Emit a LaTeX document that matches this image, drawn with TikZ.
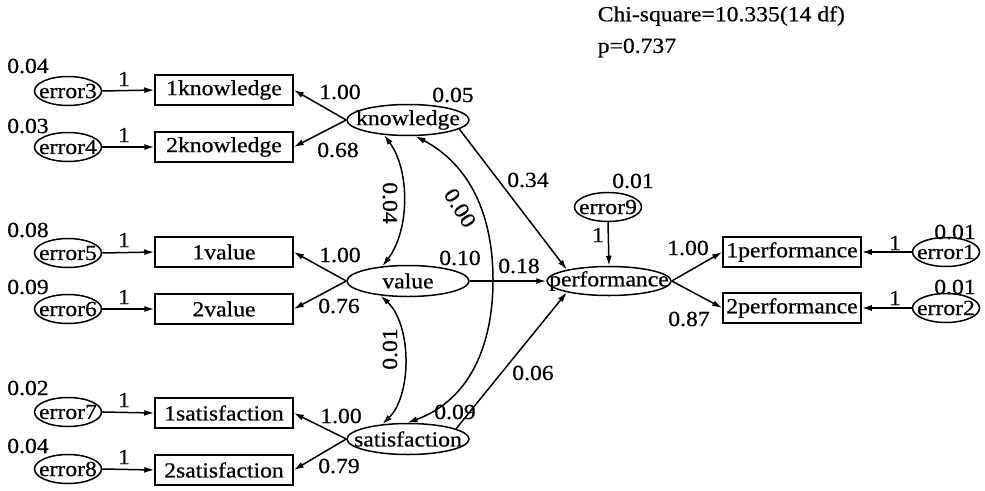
\documentclass[tikz,border=0pt]{standalone}
\usepackage{fontspec}
\setmainfont[FakeStretch=1.1,FakeBold=0.6]{Liberation Serif}
\usetikzlibrary{shapes.geometric,arrows.meta}
\begin{document}
\begin{tikzpicture}[x=1pt,y=-1pt,
  font=\fontsize{21.5}{25}\selectfont,
  line width=1.5pt,
  >={Latex[length=10pt,width=6pt]},
  errell/.style={draw, ellipse, minimum width=67pt, minimum height=29pt, inner sep=0pt},
  latell/.style={draw, ellipse, minimum width=122pt, minimum height=31pt, inner sep=0pt},
  obsbox/.style={draw, rectangle, minimum width=138pt, minimum height=30pt, inner sep=0pt},
  lbl/.style={inner sep=0pt}]
\useasboundingbox (0,0) rectangle (985,490);

% fit statistics
\node[lbl, anchor=west] (chi) at (597,16) {Chi-square=10.335(14 df)};
\node[lbl, anchor=west] (pv) at (597,48) {p=0.737};

% error terms (left)
\foreach \n/\y in {3/91,4/147,5/253,6/309,7/412,8/469}{
  \node[errell] (e\n) at (68,\y) {};
  \node[lbl] at (e\n) {error\n};
}
% observed boxes (left)
\node[obsbox] (k1) at (224,90) {1knowledge};
\node[obsbox] (k2) at (224,147) {2knowledge};
\node[obsbox] (v1) at (224,252) {1value};
\node[obsbox] (v2) at (224,309) {2value};
\node[obsbox] (s1) at (224,413) {1satisfaction};
\node[obsbox] (s2) at (224,470) {2satisfaction};

% latent variables
\node[latell] (kn) at (408,120) {};
\node[lbl] at (kn) {knowledge};
\node[latell] (va) at (408,281) {};
\node[lbl] at (va) {value};
\node[latell] (sa) at (408,439) {};
\node[lbl] at (sa) {satisfaction};
\node[latell, minimum width=124pt, minimum height=29pt] (pf) at (609,281) {};
\node[lbl] at (pf) {performance};

% error9
\node[errell] (e9) at (608,207) {};
\node[lbl] at (e9) {error9};

% right side
\node[obsbox] (p1) at (792,252) {1performance};
\node[obsbox] (p2) at (792,308) {2performance};
\node[errell] (e1) at (946,252) {};
\node[lbl] at (e1) {error1};
\node[errell] (e2) at (946,308) {};
\node[lbl] at (e2) {error2};

% error -> indicator arrows
\draw[->] (e3.east) -- (k1.west);
\draw[->] (e4.east) -- (k2.west);
\draw[->] (e5.east) -- (v1.west);
\draw[->] (e6.east) -- (v2.west);
\draw[->] (e7.east) -- (s1.west);
\draw[->] (e8.east) -- (s2.west);
\draw[->] (e1.west) -- (p1.east);
\draw[->] (e2.west) -- (p2.east);
\draw[->] (e9.south) -- (pf.north);

% loadings
\draw[->] (kn.west) -- (k1.east);
\draw[->] (kn.west) -- (k2.east);
\draw[->] (va.west) -- (v1.east);
\draw[->] (va.west) -- (v2.east);
\draw[->] (sa.west) -- (s1.east);
\draw[->] (sa.west) -- (s2.east);
\draw[->] (pf.east) -- (p1.west);
\draw[->] (pf.east) -- (p2.west);

% structural paths
\draw[->] (kn.-10) -- (pf.165);
\draw[->] (va.east) -- (pf.west);
\draw[->] (sa.12) -- (pf.195);

% covariances
\draw[<->] (kn.212) .. controls (410,170) and (410,230) .. (va.150);
\draw[<->] (va.208) .. controls (412,325) and (412,395) .. (sa.150);
\draw[<->] (kn.295) .. controls (470,165) and (493,215) .. (493,280)
  .. controls (493,345) and (470,400) .. (sa.92);

% variance labels (left)
\node[lbl] at (28,66) {0.04};
\node[lbl] at (28,126) {0.03};
\node[lbl] at (28,230) {0.08};
\node[lbl] at (28,287) {0.09};
\node[lbl] at (28,388) {0.02};
\node[lbl] at (28,446) {0.04};
% fixed "1" labels
\foreach \y in {79,135,240,297,400,457}{
  \node[lbl] at (124,\y) {1};
}
% loading labels
\node[lbl] at (340,92) {1.00};
\node[lbl] at (338,150) {0.68};
\node[lbl] at (453,95) {0.05};
\node[lbl] at (340,255) {1.00};
\node[lbl] at (339,306) {0.76};
\node[lbl] at (460,258) {0.10};
\node[lbl] at (341,416) {1.00};
\node[lbl] at (339,466) {0.79};
\node[lbl] at (455,412) {0.09};
% path labels
\node[lbl] at (528,180) {0.34};
\node[lbl] at (519,266) {0.18};
\node[lbl] at (533,373) {0.06};
% covariance labels
\node[lbl, rotate=-90] at (390,203) {0.04};
\node[lbl, rotate=-58] at (460,208) {0.00};
\node[lbl, rotate=90] at (390,349) {0.01};
% performance side labels
\node[lbl] at (633,181) {0.01};
\node[lbl] at (598,235) {1};
\node[lbl] at (688,248) {1.00};
\node[lbl] at (689,319) {0.87};
\node[lbl] at (955,232) {0.01};
\node[lbl] at (895,243) {1};
\node[lbl] at (955,287) {0.01};
\node[lbl] at (895,298) {1};
\end{tikzpicture}
\end{document}
